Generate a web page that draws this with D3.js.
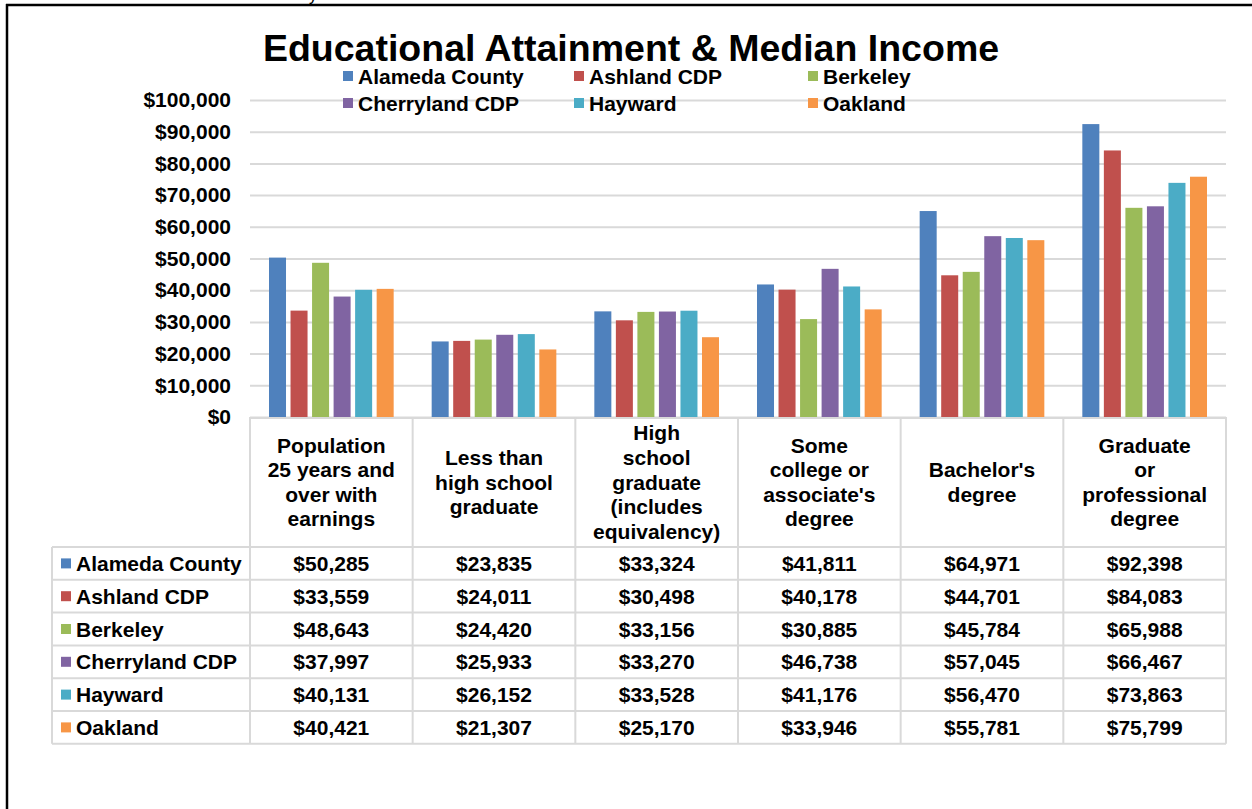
<!DOCTYPE html>
<html>
<head>
<meta charset="utf-8">
<script src="https://cdn.jsdelivr.net/npm/d3@7"></script>
<style>
  html, body { margin: 0; padding: 0; background: #fff; }
  svg { display: block; font-family: Arial, "Liberation Sans", sans-serif; }
</style>
</head>
<body>
<svg id="chart" width="1252" height="809"></svg>
<script>
// Education categories (header lines of the data table)
const categories = [
  ["Population", "25 years and", "over with", "earnings"],
  ["Less than", "high school", "graduate"],
  ["High", "school", "graduate", "(includes", "equivalency)"],
  ["Some", "college or", "associate's", "degree"],
  ["Bachelor's", "degree"],
  ["Graduate", "or", "professional", "degree"]
];

const seriesNames = ["Alameda County", "Ashland CDP", "Berkeley", "Cherryland CDP", "Hayward", "Oakland"];
const seriesColors = ["#4F81BD", "#C0504D", "#9BBB59", "#8064A2", "#4BACC6", "#F79646"];

// Median earnings per education level
const alameda    = [50285, 23835, 33324, 41811, 64971, 92398];
const ashland    = [33559, 24011, 30498, 40178, 44701, 84083];
const berkeley   = [48643, 24420, 33156, 30885, 45784, 65988];
const cherryland = [37997, 25933, 33270, 46738, 57045, 66467];
const hayward    = [40131, 26152, 33528, 41176, 56470, 73863];
const oakland    = [40421, 21307, 25170, 33946, 55781, 75799];
const seriesValues = [alameda, ashland, berkeley, cherryland, hayward, oakland];

const yTicks = [0, 10000, 20000, 30000, 40000, 50000, 60000, 70000, 80000, 90000, 100000];

const svg = d3.select("#chart");
const money = d3.format("$,");
const FS = 21;

// frame
svg.append("line").attr("x1", 6).attr("x2", 1252).attr("y1", 5).attr("y2", 5)
  .attr("stroke", "#000").attr("stroke-width", 2.5);
svg.append("line").attr("x1", 7).attr("x2", 7).attr("y1", 4).attr("y2", 809)
  .attr("stroke", "#000").attr("stroke-width", 2.5);
// clipped text above the frame
svg.append("text").attr("x", 309).attr("y", 0.5).attr("font-size", 16).text("y");

const plotLeft = 250, plotRight = 1226, plotTop = 100, plotBottom = 417;
const tableLeft = 52, headerBottom = 547, rowH = 32.8;

const x = d3.scaleBand().domain(d3.range(categories.length)).range([plotLeft, plotRight]);
const xs = d3.scaleBand().domain(d3.range(seriesNames.length))
  .range([19, x.bandwidth() - 19]).paddingInner(0.21);
const y = d3.scaleLinear().domain([0, 100000]).range([plotBottom, plotTop]);

// gridlines + value axis
const yAxis = d3.axisLeft(y).tickValues(yTicks).tickFormat(money).tickSize(-(plotRight - plotLeft)).tickPadding(19);
const ga = svg.append("g").attr("transform", `translate(${plotLeft},0)`).call(yAxis);
ga.select(".domain").remove();
ga.selectAll(".tick line").attr("stroke", "#D9D9D9").attr("stroke-width", 2);
ga.selectAll(".tick text").attr("fill", "#000").attr("font-size", FS).attr("font-weight", "bold")
  .attr("font-family", 'Arial, "Liberation Sans", sans-serif');

// bars
const groups = svg.append("g").selectAll("g").data(seriesValues).join("g")
  .attr("fill", (d, i) => seriesColors[i]);
groups.each(function (vals, si) {
  d3.select(this).selectAll("rect").data(vals).join("rect")
    .attr("x", (v, ci) => x(ci) + xs(si))
    .attr("width", xs.bandwidth())
    .attr("y", v => y(v))
    .attr("height", v => y(0) - y(v));
});

// title
svg.append("text").attr("x", 631).attr("y", 61).attr("text-anchor", "middle")
  .attr("font-size", 37.5).attr("font-weight", "bold").text("Educational Attainment & Median Income");

// legend (3 columns, 2 rows)
const legendCols = [343, 574, 808];
const legendRows = [77, 104];
seriesNames.forEach((name, i) => {
  const lx = legendCols[i % 3], ly = legendRows[Math.floor(i / 3)];
  svg.append("rect").attr("x", lx).attr("y", ly - 6).attr("width", 10).attr("height", 10).attr("fill", seriesColors[i]);
  svg.append("text").attr("x", lx + 15).attr("y", ly + 7).attr("font-size", FS).attr("font-weight", "bold").text(name);
});

// data table
const tableBottom = headerBottom + rowH * seriesNames.length;
const tg = svg.append("g").attr("stroke", "#D9D9D9").attr("stroke-width", 2);
// horizontal rules
tg.append("line").attr("x1", plotLeft).attr("x2", plotRight).attr("y1", plotBottom + 1).attr("y2", plotBottom + 1);
d3.range(seriesNames.length + 1).forEach(r => {
  const yy = headerBottom + r * rowH;
  tg.append("line").attr("x1", tableLeft).attr("x2", plotRight).attr("y1", yy).attr("y2", yy);
});
// vertical rules
tg.append("line").attr("x1", tableLeft).attr("x2", tableLeft).attr("y1", headerBottom).attr("y2", tableBottom);
d3.range(categories.length + 1).forEach(c => {
  const xx = c < categories.length ? x(c) : plotRight;
  tg.append("line").attr("x1", xx).attr("x2", xx).attr("y1", plotBottom).attr("y2", tableBottom);
});

// header text
const lineH = 24.6;
const headerMid = (plotBottom + headerBottom) / 2;
categories.forEach((lines, ci) => {
  const cx = x(ci) + x.bandwidth() / 2;
  const t = svg.append("text").attr("text-anchor", "middle").attr("font-size", FS).attr("font-weight", "bold");
  lines.forEach((ln, li) => {
    t.append("tspan").attr("x", cx)
      .attr("y", headerMid + (li - (lines.length - 1) / 2) * lineH + 7.5)
      .text(ln);
  });
});

// rows
seriesNames.forEach((name, si) => {
  const ry = headerBottom + si * rowH + rowH / 2;
  svg.append("rect").attr("x", 61).attr("y", ry - 5).attr("width", 10).attr("height", 10).attr("fill", seriesColors[si]);
  svg.append("text").attr("x", 76).attr("y", ry + 7.5).attr("font-size", FS).attr("font-weight", "bold").text(name);
  seriesValues[si].forEach((v, ci) => {
    svg.append("text").attr("x", x(ci) + x.bandwidth() / 2).attr("y", ry + 7.5)
      .attr("text-anchor", "middle").attr("font-size", FS).attr("font-weight", "bold").text(money(v));
  });
});
</script>
</body>
</html>
